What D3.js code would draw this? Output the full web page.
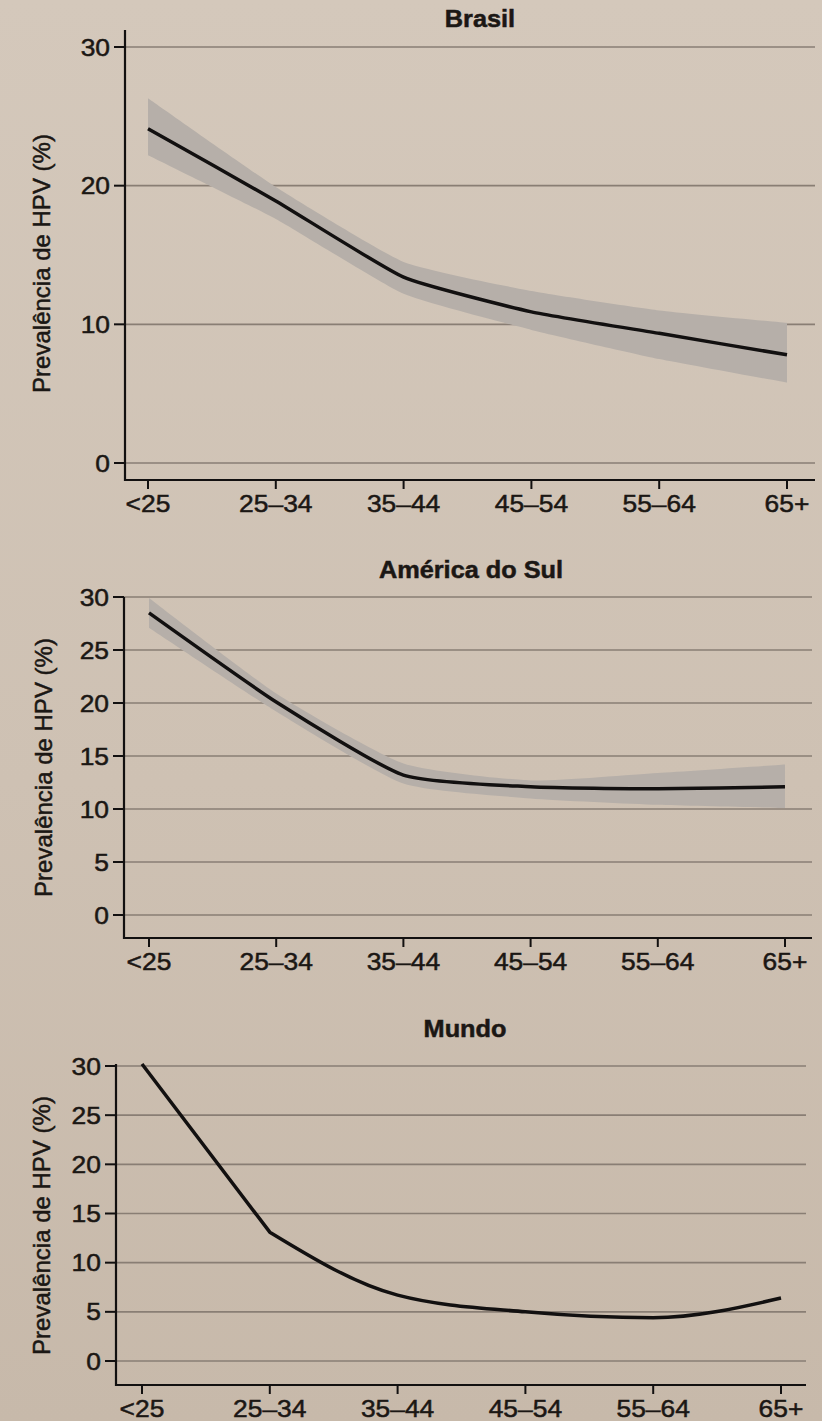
<!DOCTYPE html>
<html><head><meta charset="utf-8">
<script src="https://cdn.jsdelivr.net/npm/d3@7"></script>
<style>
body{margin:0;background:#cdc1b3}
svg{display:block}
text{font-family:"Liberation Sans",Arial,Helvetica,sans-serif;fill:#1b1714;stroke:#1b1714;stroke-width:0.5px}
.sx{transform-box:fill-box;transform-origin:50% 50%;transform:scaleX(1.1)}
.sxr{transform-box:fill-box;transform-origin:100% 50%;transform:scaleX(1.1)}
</style>
</head><body>
<svg id="c" width="822" height="1421"></svg>
<script>
// ---- data ----
const ageGroups = ["<25", "25–34", "35–44", "45–54", "55–64", "65+"];
const titles = ["Brasil", "América do Sul", "Mundo"];
const yLabel = "Prevalência de HPV (%)";

const brasilPrev  = [24.1, 18.9, 13.4, 10.9, 9.35, 7.8];
const brasilUpper = [26.3, 19.9, 14.5, 12.4, 11.0, 10.1];
const brasilLower = [22.2, 17.6, 12.2, 9.6, 7.5, 5.8];

const sulPrev  = [28.5, 20.1, 13.2, 12.1, 11.9, 12.1];
const sulUpper = [29.9, 20.9, 14.3, 12.7, 13.4, 14.2];
const sulLower = [27.1, 19.2, 12.4, 11.0, 10.4, 10.1];

const mundoPrev = [30.2, 13.1, 6.7, 5.0, 4.4, 6.4];

const brasilTicks = [0, 10, 20, 30];
const fiveTicks = [0, 5, 10, 15, 20, 25, 30];

// ---- layout ----
// knot: index up to which the curve is straight; smooth afterwards
const panels = [
  {title: titles[0], prev: brasilPrev, upper: brasilUpper, lower: brasilLower, ticks: brasilTicks, knot: 0,
   curve: d3.curveCardinal.tension(0.55),
   left: 125, right: 815, axisY: 480, axisTop: 30, y0: 463, y30: 47, cx0: 148, cx1: 787, titleX: 480, titleY: 27, labelX: 42},
  {title: titles[1], prev: sulPrev, upper: sulUpper, lower: sulLower, ticks: fiveTicks, knot: 0,
   curve: d3.curveCardinal.tension(0.45),
   left: 124, right: 812, axisY: 938, axisTop: 597, y0: 915, y30: 597, cx0: 149, cx1: 785, titleX: 471, titleY: 578, labelX: 44},
  {title: titles[2], prev: mundoPrev, upper: null, lower: null, ticks: fiveTicks, knot: 1,
   curve: d3.curveMonotoneX,
   left: 116, right: 806, axisY: 1385, axisTop: 1064, y0: 1361, y30: 1066, cx0: 142, cx1: 781, titleX: 465, titleY: 1037, labelX: 42}
];

const svg = d3.select("#c");
const defs = svg.append("defs");
const grad = defs.append("linearGradient").attr("id","bg").attr("x1",0).attr("y1",0).attr("x2",0).attr("y2",1);
grad.append("stop").attr("offset","0%").attr("stop-color","#d4c8bb");
grad.append("stop").attr("offset","55%").attr("stop-color","#cec1b3");
grad.append("stop").attr("offset","100%").attr("stop-color","#c7b9aa");
svg.append("rect").attr("width",822).attr("height",1421).attr("fill","url(#bg)");

panels.forEach(p => {
  const g = svg.append("g");
  const x = d3.scalePoint().domain(ageGroups).range([p.cx0, p.cx1]);
  const y = d3.scaleLinear().domain([0, 30]).range([p.y0, p.y30]);
  const idx = d3.range(ageGroups.length);
  const straight = idx.filter(i => i <= p.knot);
  const smooth = idx.filter(i => i >= p.knot);

  // gridlines
  g.selectAll("line.grid").data(p.ticks).join("line")
    .attr("x1", p.left).attr("x2", p.right)
    .attr("y1", d => y(d)).attr("y2", d => y(d))
    .attr("stroke", "#897e74").attr("stroke-width", 1.6);

  // confidence band
  if (p.upper) {
    const area = d3.area()
      .x(i => x(ageGroups[i]))
      .y0(i => y(p.lower[i]))
      .y1(i => y(p.upper[i]))
      .curve(p.curve);
    g.append("path").datum(idx).attr("d", area).attr("fill", "#b6afa9");
  }

  // line
  const mkLine = curve => d3.line().x(i => x(ageGroups[i])).y(i => y(p.prev[i])).curve(curve);
  let path = mkLine(p.curve)(smooth);
  if (straight.length > 1) path = mkLine(d3.curveLinear)(straight) + path.replace(/^M/, "L");
  g.append("path").attr("d", path)
    .attr("fill", "none").attr("stroke", "#121010").attr("stroke-width", 3.5)
    .attr("stroke-linejoin", "round").attr("stroke-linecap", "butt");

  // y axis
  g.append("line").attr("x1", p.left).attr("x2", p.left).attr("y1", p.axisTop).attr("y2", p.axisY + 1)
    .attr("stroke", "#121010").attr("stroke-width", 2.2);
  g.selectAll("line.yt").data(p.ticks).join("line")
    .attr("x1", p.left - 11).attr("x2", p.left)
    .attr("y1", d => y(d)).attr("y2", d => y(d))
    .attr("stroke", "#121010").attr("stroke-width", 2);
  g.selectAll("text.yl").data(p.ticks).join("text")
    .attr("class", "sxr")
    .attr("x", p.left - 15).attr("y", d => y(d)).attr("dy", "0.36em")
    .attr("text-anchor", "end").attr("font-size", 24)
    .text(d => d);

  // x axis
  g.append("line").attr("x1", p.left - 1).attr("x2", p.right).attr("y1", p.axisY).attr("y2", p.axisY)
    .attr("stroke", "#121010").attr("stroke-width", 2.2);
  g.selectAll("line.xt").data(ageGroups).join("line")
    .attr("x1", d => x(d)).attr("x2", d => x(d))
    .attr("y1", p.axisY).attr("y2", p.axisY + 9)
    .attr("stroke", "#121010").attr("stroke-width", 2);
  g.selectAll("text.xl").data(ageGroups).join("text")
    .attr("class", "sx")
    .attr("x", d => x(d)).attr("y", p.axisY + 32)
    .attr("text-anchor", "middle").attr("font-size", 24)
    .text(d => d);

  // title
  g.append("text").attr("class", "sx")
    .attr("x", p.titleX).attr("y", p.titleY)
    .attr("text-anchor", "middle").attr("font-size", 23).attr("font-weight", "bold")
    .text(p.title);

  // y label
  const cy = (y(30) + p.axisY) / 2;
  g.append("text")
    .attr("transform", `translate(${p.labelX + 8},${cy}) rotate(-90)`)
    .attr("text-anchor", "middle").attr("font-size", 24)
    .text(yLabel);
});
</script>
</body></html>
